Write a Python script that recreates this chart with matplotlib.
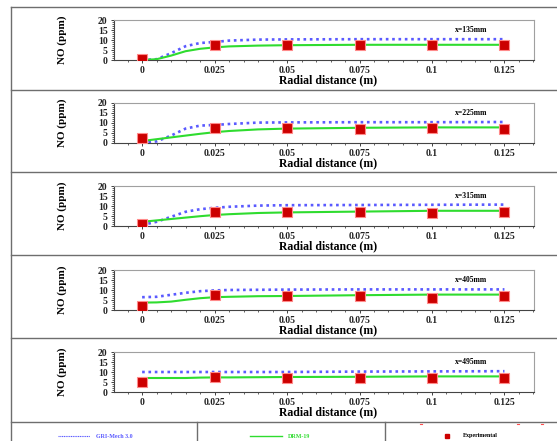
import matplotlib
matplotlib.use("Agg")
import matplotlib.pyplot as plt
from matplotlib.lines import Line2D
from matplotlib.ticker import MultipleLocator

# ---------------- data ----------------
positions = ["x=135mm", "x=225mm", "x=315mm", "x=405mm", "x=495mm"]
exp_r = [0, 0.025, 0.05, 0.075, 0.1, 0.125]
model_r = [0, 0.005, 0.01, 0.015, 0.02, 0.025, 0.03, 0.04, 0.05, 0.075, 0.1, 0.125]

exp_135 = [0.7, 7.6, 7.3, 7.3, 7.3, 7.3]
gri_135 = [0.0, 0.4, 3.4, 6.9, 8.5, 9.0, 9.7, 10.2, 10.3, 10.4, 10.4, 10.4]
drm_135 = [0.0, 0.4, 2.2, 4.4, 5.6, 6.3, 6.8, 7.2, 7.4, 7.6, 7.6, 7.6]

exp_225 = [2.3, 7.7, 7.3, 7.2, 7.3, 7.2]
gri_225 = [0.0, 0.8, 3.7, 7.2, 8.7, 9.0, 9.5, 10.2, 10.3, 10.4, 10.4, 10.5]
drm_225 = [1.0, 1.9, 2.8, 3.7, 4.6, 5.4, 6.0, 6.8, 7.2, 7.6, 7.8, 7.8]

exp_315 = [1.2, 7.2, 6.9, 7.1, 6.3, 7.1]
gri_315 = [0.5, 2.1, 4.6, 7.1, 8.4, 9.1, 9.6, 10.2, 10.4, 10.5, 10.6, 10.7]
drm_315 = [2.1, 2.8, 3.5, 4.2, 4.9, 5.5, 5.9, 6.5, 6.8, 7.2, 7.6, 7.6]

exp_405 = [2.2, 7.3, 7.0, 7.2, 6.2, 7.0]
gri_405 = [6.4, 6.6, 7.6, 8.6, 9.4, 9.8, 10.0, 10.1, 10.2, 10.3, 10.3, 10.3]
drm_405 = [3.7, 3.8, 4.2, 5.1, 5.9, 6.4, 6.6, 6.9, 7.0, 7.4, 7.7, 7.7]

exp_495 = [5.0, 7.3, 7.0, 7.2, 7.2, 6.8]
gri_495 = [10.0, 10.0, 10.0, 10.0, 10.0, 10.0, 10.0, 10.0, 10.0, 10.2, 10.3, 10.4]
drm_495 = [7.0, 7.0, 7.0, 7.0, 7.2, 7.3, 7.3, 7.4, 7.5, 7.6, 7.8, 7.8]

exp_all = [exp_135, exp_225, exp_315, exp_405, exp_495]
gri_all = [gri_135, gri_225, gri_315, gri_405, gri_495]
drm_all = [drm_135, drm_225, drm_315, drm_405, drm_495]

x_ticks = [0, 0.025, 0.05, 0.075, 0.1, 0.125]
x_tick_labels = ["0", "0.025", "0.05", "0.075", "0.1", "0.125"]
y_ticks = [0, 5, 10, 15, 20]
legend_labels = ["GRI-Mech 3.0", "DRM-19", "Experimental"]

# ---------------- style ----------------
W, H = 557, 441
SERIF = ["Liberation Serif", "DejaVu Serif"]
BLUE = "#5a5aff"
GREEN = "#2fdc2f"
RED = "#cc0000"
FRAME = "#6e6e6e"

fig = plt.figure(figsize=(W / 100, H / 100), dpi=100)
fig.patch.set_facecolor("white")

def fx(px):
    return px / W

def fy(py):
    return 1 - py / H

ax_left, ax_right = 114, 534
ax_tops = [20, 103, 186, 270, 352]
ax_h = 40

for i in range(5):
    top = ax_tops[i]
    ax = fig.add_axes([fx(ax_left), fy(top + ax_h), fx(ax_right - ax_left), ax_h / H])
    ax.plot(model_r, gri_all[i], color=BLUE, lw=1.9, linestyle=(0, (1, 1.4)), zorder=2)
    ax.plot(model_r, drm_all[i], color=GREEN, lw=1.5, zorder=3)
    ax.plot(exp_r, exp_all[i], linestyle="none", marker="s", markersize=7,
            markerfacecolor=RED, markeredgecolor="#ff8a8a", markeredgewidth=0.8, zorder=4)
    ax.set_xlim(-0.0097, 0.1352)
    ax.set_ylim(0, 20)
    ax.set_xticks(x_ticks)
    ax.set_xticklabels(x_tick_labels)
    ax.set_yticks(y_ticks)
    ax.xaxis.set_minor_locator(MultipleLocator(0.005))
    ax.yaxis.set_minor_locator(MultipleLocator(1))
    for lab in ax.get_xticklabels() + ax.get_yticklabels():
        lab.set_fontfamily(SERIF)
        lab.set_fontweight("bold")
        lab.set_fontsize(7)
    ax.tick_params(which="major", direction="out", length=2.5, width=0.6, pad=2, colors="#222222")
    ax.tick_params(which="minor", direction="out", length=1.5, width=0.5, colors="#222222")
    ax.tick_params(axis="x", pad=1.5)
    for s in ["left", "bottom"]:
        ax.spines[s].set_color("#444444")
        ax.spines[s].set_linewidth(0.8)
    for s in ["top", "right"]:
        ax.spines[s].set_color("#a0a0a0")
        ax.spines[s].set_linewidth(0.8)
    ax.set_ylabel("NO (ppm)", fontfamily=SERIF, fontweight="bold", fontsize=8)
    ax.yaxis.set_label_coords((67 - ax_left) / (ax_right - ax_left), 0.5)
    ax.set_xlabel("Radial distance (m)", fontfamily=SERIF, fontweight="bold", fontsize=8.5)
    ax.xaxis.set_label_coords(0.51, -0.36)
    ax.text(0.1135, 15, positions[i], fontfamily=SERIF, fontweight="bold",
            fontsize=5.5, ha="center", va="center")

# ---------------- outer frame & separators ----------------
def hline(py, x0=11, x1=557, c=FRAME):
    fig.add_artist(Line2D([fx(x0), fx(x1)], [fy(py), fy(py)], color=c, lw=1.0))

def vline(px, y0, y1, c=FRAME):
    fig.add_artist(Line2D([fx(px), fx(px)], [fy(y0), fy(y1)], color=c, lw=1.0))

for py in [7, 90, 172, 255, 338, 422]:
    hline(py)
vline(11, 7, 441)
vline(197, 422, 441)
vline(385, 422, 441)

# ---------------- legend row ----------------
ly = 436
fig.add_artist(Line2D([fx(58), fx(90)], [fy(ly), fy(ly)], color=BLUE, lw=0.8, linestyle=(0, (1, 0.6))))
fig.text(fx(96), fy(ly), legend_labels[0], color=BLUE, fontfamily=SERIF, fontweight="bold",
         fontsize=4.3, ha="left", va="center")
fig.add_artist(Line2D([fx(250), fx(282)], [fy(ly), fy(ly)], color=GREEN, lw=1.0))
fig.text(fx(288), fy(ly), legend_labels[1], color=GREEN, fontfamily=SERIF, fontweight="bold",
         fontsize=4.3, ha="left", va="center")
fig.add_artist(Line2D([fx(447)], [fy(ly)], marker="s", markersize=2.2, color=RED, linestyle="none"))
fig.text(fx(463), fy(ly), legend_labels[2], color="black", fontfamily=SERIF, fontweight="bold",
         fontsize=4.3, ha="left", va="center")
for px in [421, 518, 542]:
    fig.add_artist(Line2D([fx(px - 1), fx(px + 1)], [fy(424), fy(424)], color="#ff5050", lw=0.8))

fig.savefig("out.png", dpi=100, facecolor="white")
